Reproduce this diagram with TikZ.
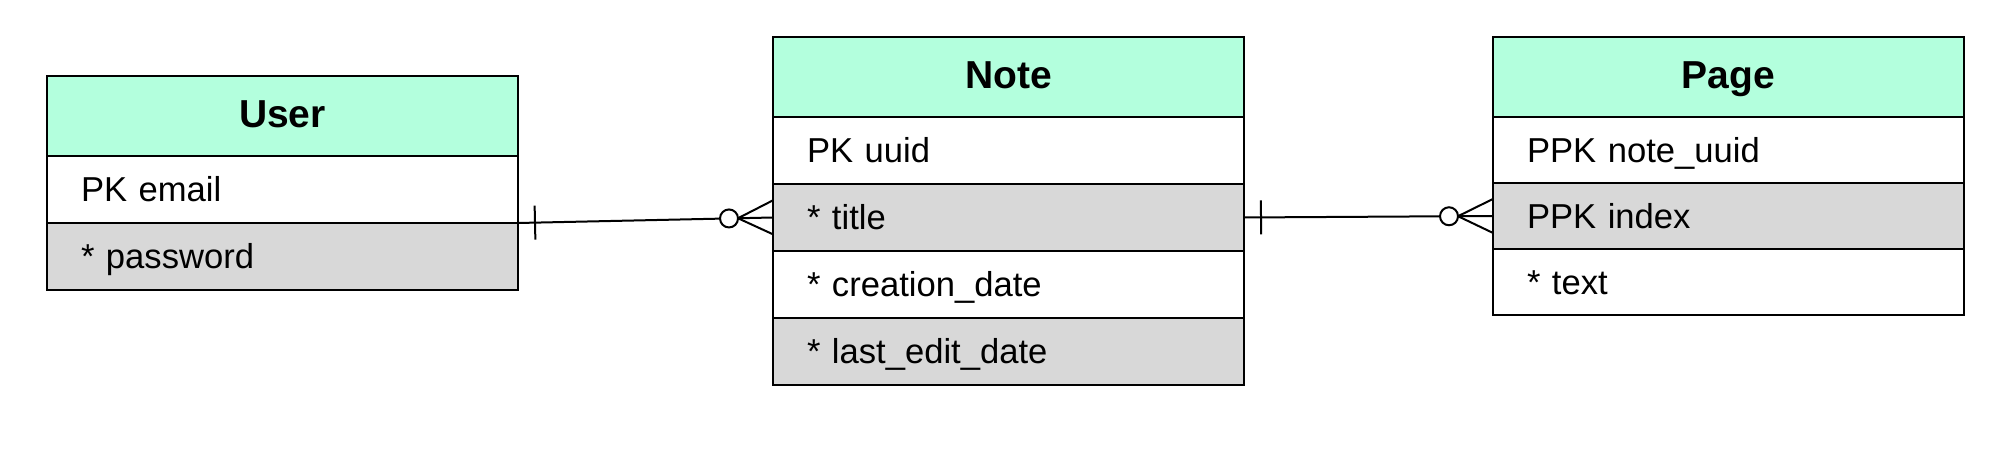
\documentclass[tikz,border=0pt]{standalone}
\usepackage{fontspec}
\setmainfont{Liberation Sans}
\usetikzlibrary{calc}
\definecolor{headgreen}{HTML}{B3FFDD}
\definecolor{rowgrey}{HTML}{D8D8D8}

\begin{document}
\begin{tikzpicture}[x=0.5pt,y=-0.5pt,
    tblhead/.style={draw,line width=1pt,fill=headgreen,anchor=north west,inner sep=0pt,outer sep=0pt,
      minimum width=235.5pt,minimum height=40pt,text height=14pt,text depth=2pt,
      font=\bfseries\fontsize{19.5}{23}\selectfont},
    tblrow/.style={draw,line width=1pt,fill=white,anchor=north west,inner xsep=17pt,inner ysep=0pt,
      outer sep=0pt,text width=201.5pt,align=left,minimum height=33.5pt,text height=12.4pt,text depth=0pt,
      font=\fontsize{17.3}{20}\selectfont},
    grey/.style={fill=rowgrey},
    conn/.style={line width=1pt}]
  \useasboundingbox (0,0) rectangle (1997,464);
  % User
  \node[tblhead] (uhead) at (47,76) {User};
  \node[tblrow] (uemail) at (uhead.south west) {PK email};
  \node[tblrow,grey] (upass) at (uemail.south west) {* password};
  % Note
  \node[tblhead] (nhead) at (773,37) {Note};
  \node[tblrow] (nuuid) at (nhead.south west) {PK uuid};
  \node[tblrow,grey] (ntitle) at (nuuid.south west) {* title};
  \node[tblrow] (ncreate) at (ntitle.south west) {* creation\_date};
  \node[tblrow,grey] (nedit) at (ncreate.south west) {* last\_edit\_date};
  % Page
  \node[tblhead] (phead) at (1493,37) {Page};
  \node[tblrow,minimum height=33pt] (pnote) at (phead.south west) {PPK note\_uuid};
  \node[tblrow,grey,minimum height=33pt] (pindex) at (pnote.south west) {PPK index};
  \node[tblrow,minimum height=33pt] (ptext) at (pindex.south west) {* text};
  % one and only one -- zero or many
  \foreach \a/\b in {uemail.south east/ntitle.west, ntitle.east/pindex.west}{
    \draw[conn] (\a) -- (\b);
    \coordinate (tk) at ($(\a)!8.5pt!(\b)$);
    \draw[conn] ($(tk)!8.5pt!90:(\b)$) -- ($(tk)!8.5pt!-90:(\b)$);
    \coordinate (ft) at ($(\b)!17.5pt!(\a)$);
    \draw[conn] ($(\b)!8.5pt!90:(\a)$) -- (ft) -- ($(\b)!8.5pt!-90:(\a)$);
    \draw[conn,fill=white] ($(\b)!22pt!(\a)$) circle[radius=4.5pt];
  }
\end{tikzpicture}
\end{document}
